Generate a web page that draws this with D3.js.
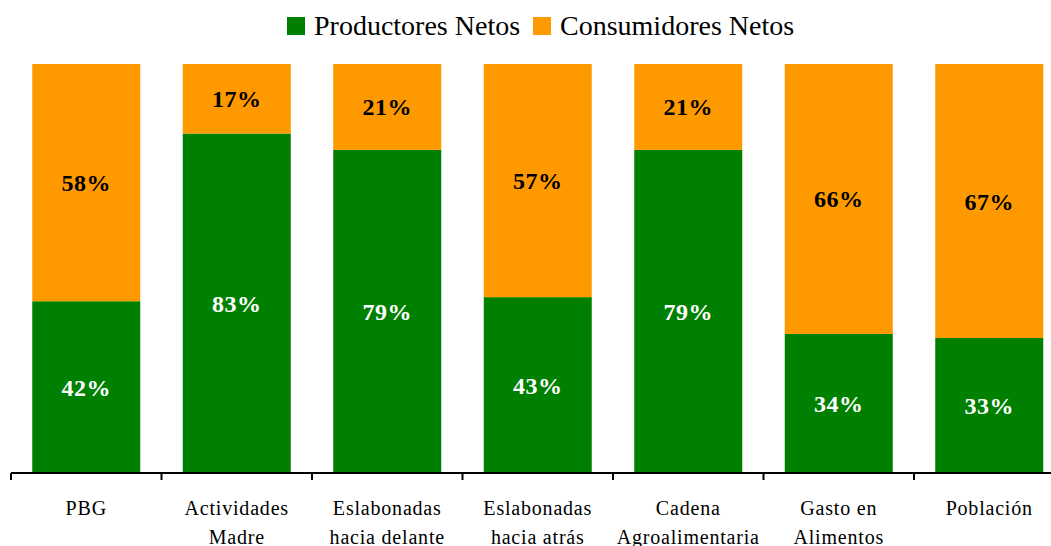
<!DOCTYPE html>
<html>
<head>
<meta charset="utf-8">
<script src="https://cdn.jsdelivr.net/npm/d3@7"></script>
<style>
  body { margin: 0; background: #fff; }
  svg { display: block; }
</style>
</head>
<body>
<div class="graph"></div>
<script>
// chart data
const categories = [
  ['PBG'],
  ['Actividades', 'Madre'],
  ['Eslabonadas', 'hacia delante'],
  ['Eslabonadas', 'hacia atrás'],
  ['Cadena', 'Agroalimentaria'],
  ['Gasto en', 'Alimentos'],
  ['Población']
];
const productores = [42, 83, 79, 43, 79, 34, 33];
const consumidores = [58, 17, 21, 57, 21, 66, 67];
const seriesNames = ['Productores Netos', 'Consumidores Netos'];
const seriesColors = ['#008000', '#FF9900'];
const labelColors = ['#ffffff', '#000000'];

const width = 1051;
const height = 546;
const serif = '"Liberation Serif", "Times New Roman", serif';

const svg = d3.select('.graph').append('svg')
  .attr('width', width)
  .attr('height', height);

const keys = categories.map((c, i) => i);
const padIn = 0.2824;

const x = d3.scaleBand()
  .domain(keys)
  .range([11, 11 + 7 * 150.5])
  .paddingInner(padIn)
  .paddingOuter(padIn / 2);

const y = d3.scaleLinear()
  .domain([0, 100])
  .range([473, 64]);

// stacked data
const rows = keys.map(i => ({ key: i, s0: productores[i], s1: consumidores[i] }));
const stack = d3.stack().keys(['s0', 's1']);
const layers = stack(rows);

const groups = svg.selectAll('.layer')
  .data(layers)
  .enter().append('g')
  .attr('class', 'layer')
  .attr('fill', (d, i) => seriesColors[i]);

groups.selectAll('rect')
  .data(d => d)
  .enter().append('rect')
  .attr('x', d => x(d.data.key))
  .attr('y', d => y(d[1]))
  .attr('width', x.bandwidth())
  .attr('height', d => y(d[0]) - y(d[1]));

// value labels
groups.each(function(layer, li) {
  d3.select(this).selectAll('text')
    .data(layer)
    .enter().append('text')
    .attr('x', d => x(d.data.key) + x.bandwidth() / 2)
    .attr('y', d => (y(d[0]) + y(d[1])) / 2 + 8.5)
    .attr('text-anchor', 'middle')
    .attr('fill', labelColors[li])
    .style('font-family', serif)
    .style('font-weight', 'bold')
    .style('font-size', '24px')
    .style('letter-spacing', '0.5px')
    .text(d => (d[1] - d[0]) + '%');
});

// axis: baseline, ticks between categories, labels
const step = x.step();
const edgeOff = step * padIn / 2;
const axis = svg.append('g').attr('class', 'x-axis');

axis.append('line')
  .attr('x1', x(0) - edgeOff)
  .attr('x2', x(keys.length - 1) - edgeOff + step)
  .attr('y1', y(0))
  .attr('y2', y(0))
  .attr('stroke', '#000')
  .attr('stroke-width', 2);

const tickPos = d3.range(keys.length + 1).map(i => x(0) - edgeOff + i * step);
axis.selectAll('.tick')
  .data(tickPos)
  .enter().append('line')
  .attr('class', 'tick')
  .attr('x1', d => d)
  .attr('x2', d => d)
  .attr('y1', y(0))
  .attr('y2', y(0) + 7)
  .attr('stroke', '#000')
  .attr('stroke-width', 2);

const catLabels = axis.selectAll('.cat')
  .data(categories)
  .enter().append('text')
  .attr('class', 'cat')
  .attr('text-anchor', 'middle')
  .style('font-family', serif)
  .style('font-size', '20px')
  .style('letter-spacing', '0.8px')
  .attr('fill', '#000');

catLabels.selectAll('tspan')
  .data((d, i) => d.map(t => ({ t: t, i: i })))
  .enter().append('tspan')
  .attr('x', d => x(d.i) + x.bandwidth() / 2)
  .attr('y', (d, j) => 515 + j * 29)
  .text(d => d.t);

// legend
const legendItems = [
  { name: seriesNames[0], color: seriesColors[0], x: 287 },
  { name: seriesNames[1], color: seriesColors[1], x: 533 }
];
const legend = svg.selectAll('.legend')
  .data(legendItems)
  .enter().append('g')
  .attr('class', 'legend')
  .attr('transform', d => 'translate(' + d.x + ',17)');

legend.append('rect')
  .attr('width', 18)
  .attr('height', 18)
  .attr('fill', d => d.color);

legend.append('text')
  .attr('x', 27)
  .attr('y', 18)
  .style('font-family', serif)
  .style('font-size', '28px')
  .attr('fill', '#000')
  .text(d => d.name);
</script>
</body>
</html>
